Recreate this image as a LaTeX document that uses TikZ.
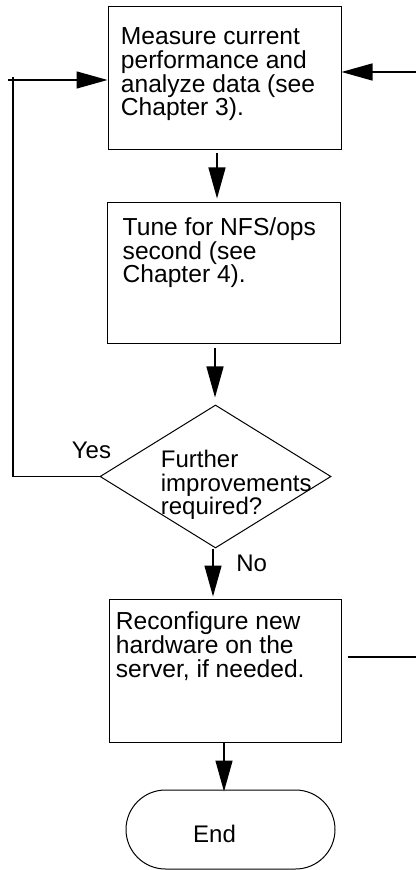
\documentclass[tikz,border=0pt]{standalone}
\usepackage{fontspec}
\setmainfont{Liberation Sans}
\usetikzlibrary{arrows.meta,shapes.geometric}

\begin{document}
\begin{tikzpicture}[x=0.5pt,y=-0.5pt,
  every node/.style={font=\fontsize{12pt}{11.8pt}\selectfont},
  box/.style={draw,rectangle,line width=.5pt,minimum width=116.5pt,minimum height=71.5pt,inner sep=0},
  txt/.style={anchor=north west,align=left,inner sep=0},
  boxtxt/.style={txt,font=\fontsize{12.3pt}{11.8pt}\selectfont},
  arr/.style={line width=.7pt,-{Triangle[length=15.5pt,width=8.5pt]}},
  line/.style={line width=.7pt}]
\useasboundingbox (0,0) rectangle (416,870);

\node[box] (measure) at (224.5,78.5) {};
\node[box,minimum height=70.5pt] (tune) at (223.5,273.5) {};
\node[draw,diamond,line width=.5pt,minimum width=115.5pt,minimum height=71.5pt,inner sep=0] (further) at (215.5,476.5) {};
\node[box,minimum width=116pt] (reconf) at (225,670.5) {};
\node[draw,rectangle,rounded corners=19.75pt,line width=.5pt,minimum width=104.5pt,minimum height=39.5pt] (stop) at (230.5,829.5) {};

% texts
\node[boxtxt,xshift=6.5pt,yshift=-10.5pt] (measure-t) at (measure.north west) {Measure current\\performance and\\analyze data (see\\Chapter 3).};
\node[boxtxt,xshift=7.9pt,yshift=-7.5pt] (tune-t) at (tune.north west) {Tune for NFS/ops\\second (see\\Chapter 4).};
\node[txt,xshift=30.5pt,yshift=13.25pt] (further-t) at (further.west) {Further\\improvements\\required?};
\node[boxtxt,xshift=3.5pt,yshift=-6.6pt] (reconf-t) at (reconf.north west) {Reconfigure new\\hardware on the\\server, if needed.};
\node[inner sep=0] (stop-t) at (214.5,833.5) {End};

\node[anchor=base west,inner sep=0,xshift=-14pt,yshift=9.25pt] (yes) at (further.west) {Yes};
\node[anchor=base west,inner sep=0,xshift=10.25pt,yshift=-11.5pt] (no) at (further.south) {No};

% connectors
\coordinate (in-r) at (416,72);
\coordinate (loop-t) at (13,77);
\coordinate (loop-l) at (8,80);
\coordinate (out-r) at (416,657);

\draw[arr] (in-r) -- (in-r -| measure.east);
\draw[line] (further.west) -| (loop-t);
\draw[arr] (loop-l) -- (loop-l -| measure.west);
\draw[arr,shorten <=1.5pt,shorten >=2pt] ([xshift=-3.75pt]measure.south) -- ([xshift=-3.75pt]measure.south |- tune.north);
\draw[arr,shorten <=2pt,shorten >=3.5pt] ([xshift=-4.25pt]tune.south) -- ([xshift=-4.25pt]tune.south |- further.north);
\draw[arr,shorten >=1pt] ([xshift=-1.25pt]further.south) -- ([xshift=-1.25pt]further.south |- reconf.north);
\draw[arr,shorten >=-1pt] ([xshift=-.5pt]reconf.south) -- ([xshift=-.5pt]reconf.south |- stop.north);
\draw[line,shorten <=3pt] (out-r -| reconf.east) -- (out-r);

\end{tikzpicture}
\end{document}
